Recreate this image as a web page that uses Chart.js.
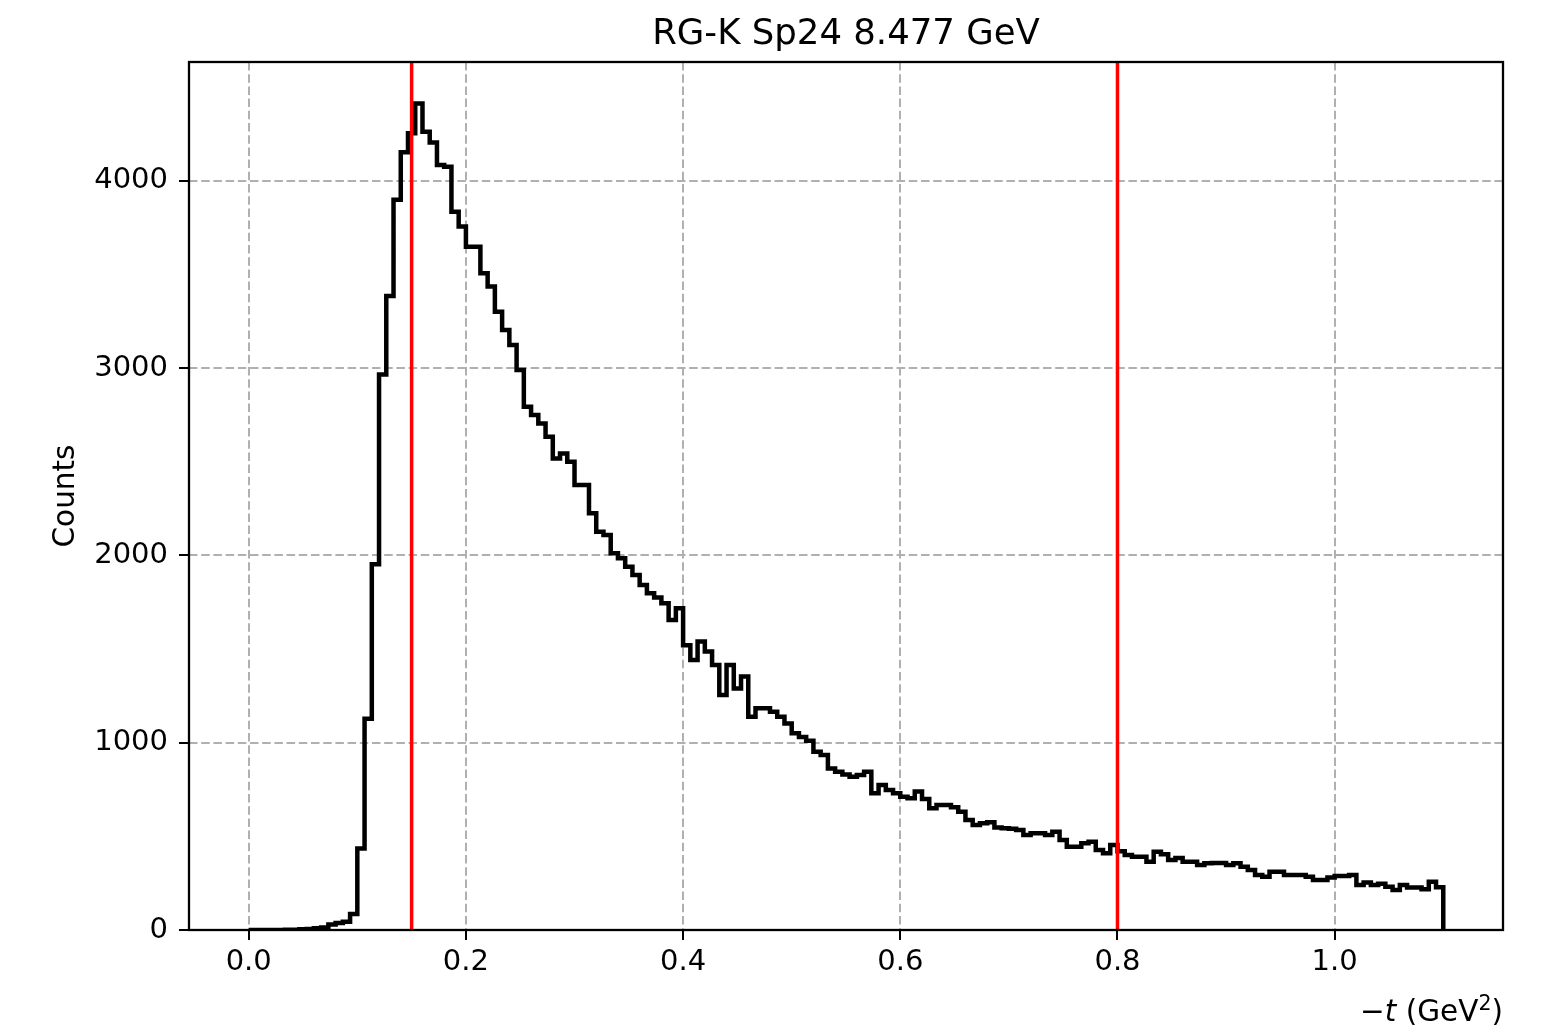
<!doctype html>
<html lang="en">
<head>
<meta charset="utf-8">
<title>RG-K Sp24 8.477 GeV</title>
<script src="https://cdn.jsdelivr.net/npm/chart.js@4.4.1/dist/chart.umd.min.js"></script>
<style>
  html, body { margin: 0; padding: 0; background: #ffffff; }
  #wrap { width: 1553px; height: 1030px; }
</style>
</head>
<body>
<div id="wrap"><canvas id="hist" width="1553" height="1030"></canvas></div>
<script>
const plotTitle = 'RG-K Sp24 8.477 GeV';
const yLabel = 'Counts';
const histRange = [0, 1.1];
// counts per bin (165 equal bins over histRange)
const counts = [
  0, 0, 0, 0, 0, 1, 2, 4, 6, 9,
  14, 30, 37, 44, 85, 435, 1128, 1953, 2966, 3386,
  3900, 4153, 4254, 4414, 4263, 4205, 4085, 4076, 3836, 3756,
  3649, 3649, 3507, 3436, 3302, 3204, 3124, 2990, 2794, 2750,
  2705, 2634, 2518, 2545, 2501, 2376, 2376, 2225, 2127, 2109,
  2012, 1985, 1940, 1896, 1842, 1798, 1775, 1745, 1655, 1718,
  1520, 1442, 1540, 1487, 1415, 1255, 1415, 1290, 1353, 1139,
  1184, 1184, 1166, 1139, 1103, 1050, 1030, 1011, 952, 935,
  863, 845, 830, 819, 828, 845, 730, 774, 748, 730,
  712, 703, 739, 700, 650, 668, 668, 655, 632, 587,
  561, 570, 575, 548, 543, 540, 534, 507, 516, 516,
  507, 525, 481, 445, 445, 463, 471, 427, 410, 454,
  420, 400, 391, 391, 365, 418, 405, 374, 385, 365,
  365, 347, 356, 358, 358, 347, 356, 338, 320, 294,
  285, 311, 311, 294, 294, 294, 285, 267, 267, 281,
  288, 288, 294, 240, 253, 240, 247, 231, 214, 240,
  227, 227, 217, 258, 228
];
const cutValues = [0.15, 0.8];
const xTickValues = [0.0, 0.2, 0.4, 0.6, 0.8, 1.0];
const yTickValues = [0, 1000, 2000, 3000, 4000];
const xLimits = [-0.055, 1.155];
const yLimits = [0, 4635];

const FONT = '"DejaVu Sans", sans-serif';

// step outline: each point is a bin's left edge and its count
const binWidth = (histRange[1] - histRange[0]) / counts.length;
const stepPoints = counts.map(function (c, i) {
  return { x: histRange[0] + i * binWidth, y: c };
});
stepPoints.push({ x: histRange[1], y: counts[counts.length - 1] });
stepPoints.push({ x: histRange[1], y: 0 });

const decorations = {
  id: 'decorations',
  afterDatasetsDraw(chart) {
    const ctx = chart.ctx;
    const a = chart.chartArea;
    const x = chart.scales.x;
    ctx.save();
    ctx.strokeStyle = '#ff0000';
    ctx.lineWidth = 3.5;
    cutValues.forEach(function (v) {
      const px = x.getPixelForValue(v);
      ctx.beginPath();
      ctx.moveTo(px, a.top);
      ctx.lineTo(px, a.bottom);
      ctx.stroke();
    });
    ctx.restore();
  },
  afterDraw(chart) {
    const ctx = chart.ctx;
    const a = chart.chartArea;
    ctx.save();
    // frame on all four sides
    ctx.strokeStyle = '#000000';
    ctx.lineWidth = 2.3;
    ctx.strokeRect(a.left, a.top, a.right - a.left, a.bottom - a.top);

    ctx.fillStyle = '#000000';
    // title
    ctx.font = '35.5px ' + FONT;
    ctx.textAlign = 'center';
    ctx.textBaseline = 'alphabetic';
    ctx.fillText(plotTitle, (a.left + a.right) / 2, 44);

    // y label
    ctx.save();
    ctx.translate(74, (a.top + a.bottom) / 2);
    ctx.rotate(-Math.PI / 2);
    ctx.font = '29.5px ' + FONT;
    ctx.textAlign = 'center';
    ctx.fillText(yLabel, 0, 0);
    ctx.restore();

    // x label: -t (GeV^2), right aligned to the axes
    const base = 1021;
    const parts = [
      { t: '\u2212', f: '29.5px ' + FONT, dy: 0 },
      { t: 't', f: 'oblique 29.5px ' + FONT, dy: 0 },
      { t: ' (GeV', f: '29.5px ' + FONT, dy: 0 },
      { t: '2', f: '20.5px ' + FONT, dy: -11 },
      { t: ')', f: '29.5px ' + FONT, dy: 0 }
    ];
    let total = 0;
    parts.forEach(function (p) { ctx.font = p.f; p.w = ctx.measureText(p.t).width; total += p.w; });
    let cx = a.right - total;
    ctx.textAlign = 'left';
    parts.forEach(function (p) {
      ctx.font = p.f;
      ctx.fillText(p.t, cx, base + p.dy);
      cx += p.w;
    });
    ctx.restore();
  }
};

Chart.defaults.font.family = FONT;
Chart.defaults.color = '#000000';

new Chart(document.getElementById('hist').getContext('2d'), {
  type: 'line',
  data: {
    datasets: [{
      data: stepPoints,
      stepped: true,
      borderColor: '#000000',
      borderWidth: 4.5,
      borderJoinStyle: 'miter',
      pointRadius: 0,
      fill: false,
      tension: 0
    }]
  },
  options: {
    responsive: false,
    animation: false,
    devicePixelRatio: 1,
    layout: { padding: { left: 0, right: 50, top: 62, bottom: 0 } },
    plugins: {
      legend: { display: false },
      tooltip: { enabled: false },
      title: { display: false }
    },
    scales: {
      x: {
        type: 'linear',
        min: xLimits[0],
        max: xLimits[1],
        afterBuildTicks: function (s) { s.ticks = xTickValues.map(function (v) { return { value: v }; }); },
        afterFit: function (s) { s.height = 100; },
        grid: { color: '#b0b0b0', lineWidth: 2, drawTicks: true, tickLength: 10, tickColor: '#000000', tickWidth: 2 },
        border: { display: false, dash: [8.5, 3.7] },
        ticks: {
          font: { size: 29 },
          color: '#000000',
          padding: 5,
          maxRotation: 0,
          callback: function (v) { return v.toFixed(1); }
        }
      },
      y: {
        type: 'linear',
        min: yLimits[0],
        max: yLimits[1],
        afterBuildTicks: function (s) { s.ticks = yTickValues.map(function (v) { return { value: v }; }); },
        afterFit: function (s) { s.width = 189; },
        grid: { color: '#b0b0b0', lineWidth: 2, drawTicks: true, tickLength: 10, tickColor: '#000000', tickWidth: 2 },
        border: { display: false, dash: [8.5, 3.7] },
        ticks: {
          font: { size: 29 },
          color: '#000000',
          padding: 11,
          callback: function (v) { return String(v); }
        }
      }
    }
  },
  plugins: [decorations]
});
</script>
</body>
</html>
